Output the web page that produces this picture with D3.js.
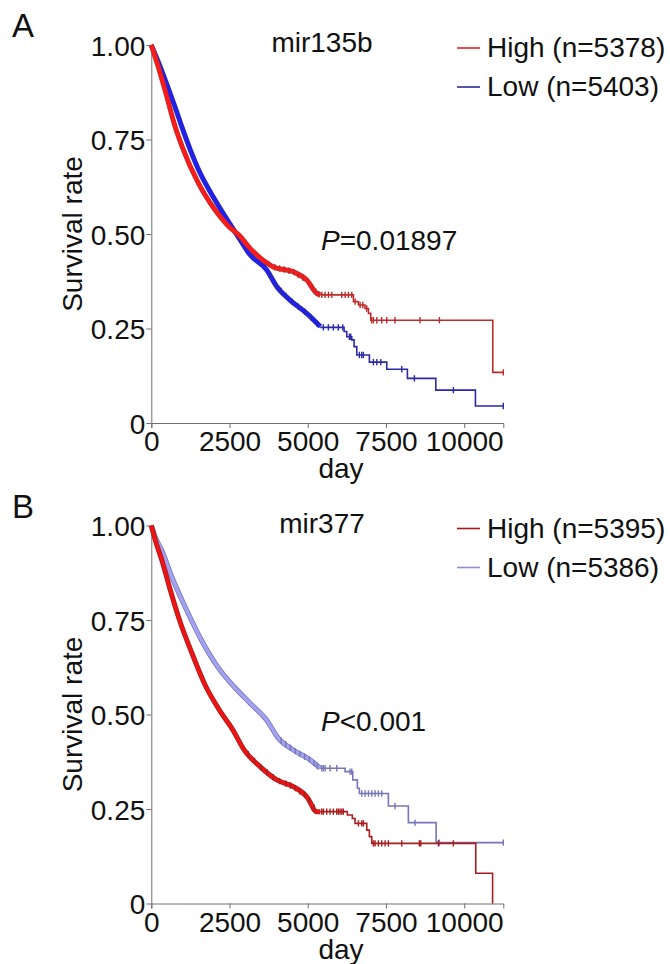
<!DOCTYPE html>
<html>
<head>
<meta charset="utf-8">
<script src="https://cdn.jsdelivr.net/npm/d3@7"></script>
<style>
  body { margin: 0; background: #fff; }
  text { font-family: "Liberation Sans", Arial, sans-serif; fill: #111; }
</style>
</head>
<body>
<div id="chart"></div>
<script>
// ---- data (day, survival) ----
const xTicks = [0, 2500, 5000, 7500, 10000];
const yTicks = [0, 0.25, 0.5, 0.75, 1];
const dayMax = 11250;

// panel A : mir135b
const aHighDense = [[0,1],[250,0.935],[500,0.862],[750,0.787],[1000,0.728],[1500,0.635],[2000,0.568],[2500,0.518],[2800,0.497],[3156,0.462],[3581,0.430],[3900,0.413],[4540,0.400],[4968,0.378],[5288,0.343],[5400,0.339]];
const aHighSteps = [[5400,0.339],[6460,0.321],[6620,0.312],[6830,0.303],[6940,0.290],[7013,0.272],[10914,0.134],[11250,0.134]];
const aHighCens = [3750,3950,4100,4250,4400,4550,4700,4850,5000,5150,5250,5350,5450,5555,5662,5769,6088,6195,6300,6408,6515,6673,6759,6886,7045,7098,7207,7366,7525,7790,8590,9208,11250];

const aLowDense = [[0,1],[250,0.950],[500,0.895],[750,0.838],[1000,0.778],[1250,0.722],[1500,0.672],[2000,0.595],[2500,0.528],[2800,0.490],[3156,0.445],[3689,0.405],[4009,0.361],[4434,0.325],[4968,0.290],[5400,0.255]];
const aLowSteps = [[5400,0.253],[6161,0.242],[6247,0.228],[6407,0.220],[6481,0.202],[6567,0.180],[6970,0.161],[7526,0.142],[8185,0.118],[9093,0.087],[10359,0.045],[11250,0.045]];
const aLowCens = [3800,4000,4150,4300,4500,4700,4900,5100,5300,5499,5659,5819,5978,6119,6330,6375,6650,6727,6778,7098,7207,7334,8005,8409,9655,11250];

// panel B : mir377
const bHighDense = [[0,1],[150,0.955],[350,0.905],[570,0.840],[900,0.750],[1300,0.662],[1720,0.578],[2230,0.505],[2600,0.460],[2960,0.407],[3476,0.362],[4009,0.327],[4540,0.309],[4968,0.283],[5288,0.243],[5400,0.243]];
const bHighSteps = [[5400,0.243],[6266,0.234],[6426,0.225],[6512,0.212],[6886,0.194],[6970,0.177],[7046,0.159],[10370,0.080],[10908,0],[10908,0]];
const bHighCens = [3100,3300,3500,3700,3900,4100,4300,4450,4600,4750,4900,5050,5200,5448,5500,5607,5713,5819,5926,5978,6033,6088,6139,6620,6727,6778,7098,7152,7258,7366,7472,7577,8005,8568,8612,9175,9655];

const bLowDense = [[0,1],[150,0.965],[330,0.935],[650,0.865],[1080,0.785],[1600,0.697],[2120,0.626],[2640,0.574],[3156,0.530],[3689,0.485],[4063,0.437],[4540,0.406],[5074,0.380],[5394,0.358]];
const bLowSteps = [[5394,0.358],[6193,0.349],[6439,0.327],[6586,0.305],[6650,0.291],[7577,0.258],[8216,0.214],[9102,0.161],[11250,0.161]];
const bLowCens = [4150,4300,4450,4600,4750,4900,5050,5200,5300,5448,5500,5555,5713,5926,6353,6407,6727,6833,6940,7045,7152,7258,7366,7790,8430,9208,11250];

const panels = [
  { label: "A", title: "mir135b", p: "=0.01897", top: 0,
    series: [
      { name: "Low (n=5403)", dense: aLowDense, steps: aLowSteps, cens: aLowCens, bright: "#2020f0", dark: "#2a2aa6", legend: "#2c2c9c" },
      { name: "High (n=5378)", dense: aHighDense, steps: aHighSteps, cens: aHighCens, bright: "#ff1a1a", dark: "#bf2b2b", legend: "#e02424" }
    ] },
  { label: "B", title: "mir377", p: "<0.001", top: 480.5,
    series: [
      { name: "Low (n=5386)", dense: bLowDense, steps: bLowSteps, cens: bLowCens, bright: "#a3a3f2", dark: "#7676b8", legend: "#8c8cd0" },
      { name: "High (n=5395)", dense: bHighDense, steps: bHighSteps, cens: bHighCens, bright: "#ee1414", dark: "#a81e1e", legend: "#a81818" }
    ] }
];

const width = 670, height = 964;
const svg = d3.select("#chart").append("svg")
  .attr("width", width).attr("height", height);

const x = d3.scaleLinear().domain([0, dayMax]).range([151.3, 503.3]);
const fs = 28;

// survival at a given day, from the drawn curve (for censor marks)
function survAt(s, t) {
  const st = s.steps;
  if (t >= st[0][0]) {
    let v = st[0][1];
    for (const [d, p] of st) { if (d <= t) v = p; }
    return v;
  }
  const dn = s.dense;
  for (let i = 1; i < dn.length; i++) {
    if (t <= dn[i][0]) {
      const [t0, p0] = dn[i - 1], [t1, p1] = dn[i];
      return p0 + (p1 - p0) * (t - t0) / (t1 - t0);
    }
  }
  return dn[dn.length - 1][1];
}

panels.forEach(pn => {
  const g = svg.append("g").attr("transform", `translate(0,${pn.top})`);
  const y = d3.scaleLinear().domain([0, 1]).range([423, 45]);

  // axes
  const xAxis = g.append("g").attr("transform", `translate(0,${y(0)})`)
    .call(d3.axisBottom(x).tickValues(xTicks).tickSize(5).tickSizeOuter(5).tickFormat(d3.format("d")));
  const yAxis = g.append("g").attr("transform", `translate(${x(0)},0)`)
    .call(d3.axisLeft(y).tickValues(yTicks).tickSize(5).tickSizeOuter(0)
      .tickFormat(d => d === 0 ? "0" : d3.format(".2f")(d)));
  [xAxis, yAxis].forEach(a => {
    a.select(".domain").attr("stroke", "#707070");
    a.selectAll(".tick line").attr("stroke", "#707070");
    a.selectAll("text").attr("font-size", fs).attr("fill", "#111")
      .style("font-family", '"Liberation Sans", Arial, sans-serif');
  });
  xAxis.selectAll("text").attr("y", 28).attr("dy", 0);
  yAxis.selectAll("text").attr("x", -6).attr("dy", "0.36em");

  // curves
  const smooth = d3.line().curve(d3.curveMonotoneX).x(d => x(d[0])).y(d => y(d[1]));
  const step = d3.line().curve(d3.curveStepAfter).x(d => x(d[0])).y(d => y(d[1]));

  pn.series.forEach(s => {
    const sg = g.append("g");
    sg.append("path").attr("d", step(s.steps)).attr("fill", "none")
      .attr("stroke", s.dark).attr("stroke-width", 1.6);
    sg.append("path").attr("d", smooth(s.dense)).attr("fill", "none")
      .attr("stroke", s.dark).attr("stroke-width", 5).attr("stroke-linejoin", "round");
    sg.append("path").attr("d", smooth(s.dense)).attr("fill", "none")
      .attr("stroke", s.bright).attr("stroke-width", 3.4).attr("stroke-linejoin", "round");
    sg.selectAll("line.cens").data(s.cens).join("line").attr("class", "cens")
      .attr("x1", d => x(d)).attr("x2", d => x(d))
      .attr("y1", d => y(survAt(s, d)) - 3.2).attr("y2", d => y(survAt(s, d)) + 3.2)
      .attr("stroke", s.dark).attr("stroke-width", 1.4);
  });

  // texts
  g.append("text").attr("x", 12).attr("y", 37).attr("font-size", 33).text(pn.label);
  g.append("text").attr("x", 322).attr("y", 52).attr("text-anchor", "middle")
    .attr("font-size", fs).text(pn.title);
  const pt = g.append("text").attr("x", 321).attr("y", 250).attr("font-size", fs);
  pt.append("tspan").attr("font-style", "italic").text("P");
  pt.append("tspan").text(pn.p);

  g.append("text").attr("transform", `translate(82,${y(0.5)}) rotate(-90)`)
    .attr("text-anchor", "middle").attr("font-size", fs).text("Survival rate");
  g.append("text").attr("x", 341).attr("y", 478).attr("text-anchor", "middle")
    .attr("font-size", fs).text("day");

  // legend (High first)
  const leg = [pn.series[1], pn.series[0]];
  leg.forEach((s, i) => {
    const ly = 48 + i * 39;
    g.append("line").attr("x1", 457).attr("x2", 480).attr("y1", ly).attr("y2", ly)
      .attr("stroke", s.legend).attr("stroke-width", 1.6);
    g.append("text").attr("x", 487).attr("y", ly + 9).attr("font-size", fs).text(s.name);
  });
});
</script>
</body>
</html>
